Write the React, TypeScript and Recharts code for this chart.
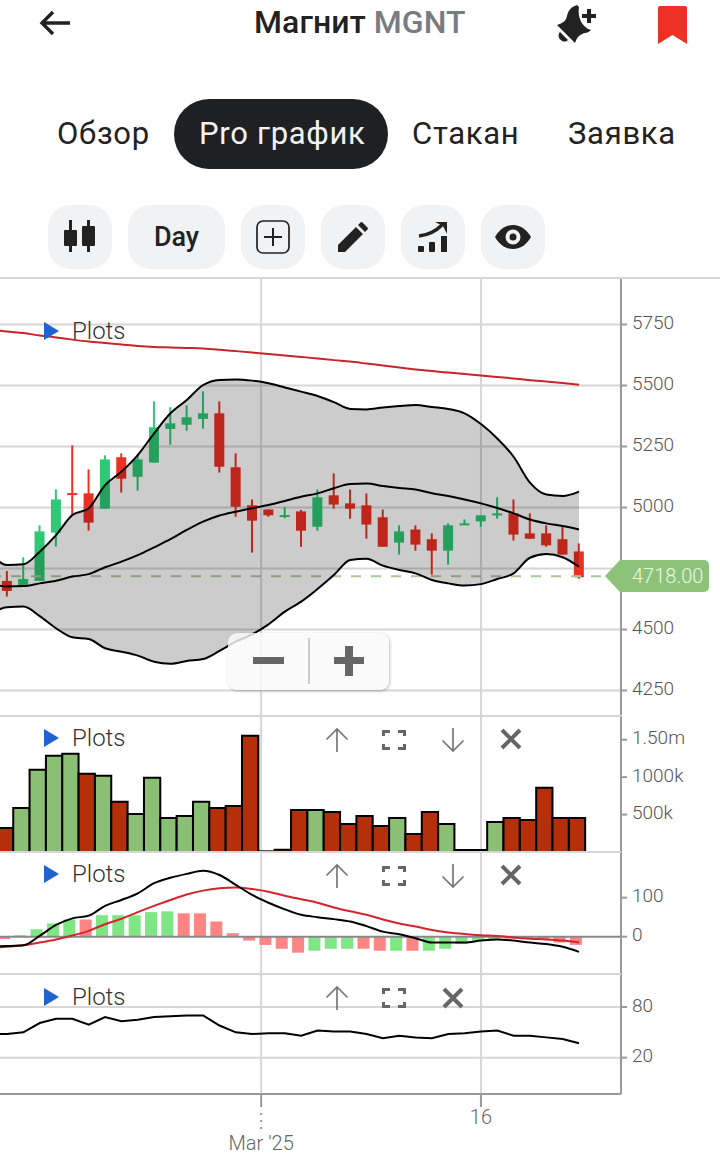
import {
  Area,
  Bar,
  CartesianGrid,
  Cell,
  ComposedChart,
  Line,
  ReferenceLine,
  XAxis,
  YAxis,
} from "recharts";

// t = -1 is the session scrolled just off the left edge, only the lines have a value there
const sessions = [-1, 0, 1, 2, 3, 4, 5, 6, 7, 8, 9, 10, 11, 12, 13, 14, 15, 16, 17, 18, 19, 20, 21, 22, 23, 24, 25, 26, 27, 28, 29, 30, 31, 32, 33, 34, 35];

const candleOpen = [null, 4699, 4682, 4699, 4897, 5059, 5058, 4995, 5206, 5126, 5184, 5322, 5339, 5363, 5386, 5165, 5009, 4992, 4962, 4984, 4921, 5050, 5017, 5009, 4960, 4856, 4910, 4870, 4823, 4930, 4943, 4971, 4976, 4894, 4894, 4870, 4820];
const candleHigh = [null, 4740, 4796, 4927, 5074, 5255, 5156, 5214, 5222, 5215, 5435, 5411, 5419, 5476, 5435, 5222, 5033, 4992, 5001, 4990, 5074, 5140, 5074, 5058, 4992, 4927, 4927, 4894, 4935, 4951, 4968, 5042, 5033, 4976, 4927, 4924, 4853];
const candleLow = [null, 4635, 4676, 4699, 4840, 4968, 4905, 4995, 5061, 5069, 5184, 5257, 5315, 5323, 5143, 4962, 4815, 4962, 4956, 4839, 4905, 4995, 4954, 4872, 4839, 4807, 4823, 4725, 4766, 4930, 4921, 4954, 4864, 4872, 4839, 4807, 4708];
const candleClose = [null, 4658, 4707, 4902, 5033, 5051, 4938, 5197, 5118, 5197, 5329, 5345, 5370, 5386, 5167, 5003, 4946, 4968, 4969, 4905, 5042, 5012, 4995, 4930, 4839, 4902, 4848, 4823, 4927, 4935, 4968, 4976, 4889, 4872, 4845, 4807, 4714];

const longMa = [5729, 5721, 5715, 5705, 5697, 5688, 5680, 5674, 5668, 5662, 5658, 5656, 5654, 5652, 5647, 5641, 5635, 5629, 5623, 5617, 5611, 5604, 5598, 5590, 5582, 5574, 5566, 5559, 5553, 5547, 5541, 5535, 5529, 5522, 5516, 5510, 5503];
const bandUpper = [4812, 4764, 4767, 4819, 4887, 4969, 4997, 5092, 5147, 5215, 5304, 5386, 5441, 5502, 5523, 5525, 5520, 5509, 5492, 5475, 5457, 5432, 5404, 5402, 5410, 5416, 5420, 5412, 5404, 5386, 5342, 5283, 5208, 5102, 5053, 5047, 5065];
const bandMiddle = [4689, 4676, 4678, 4689, 4700, 4717, 4727, 4755, 4778, 4805, 4837, 4870, 4908, 4942, 4967, 4983, 4997, 5010, 5027, 5044, 5058, 5079, 5096, 5098, 5088, 5080, 5074, 5058, 5047, 5033, 5017, 4998, 4976, 4951, 4935, 4924, 4910];
const bandLower = [4566, 4591, 4594, 4555, 4505, 4468, 4461, 4423, 4409, 4393, 4368, 4360, 4371, 4379, 4412, 4450, 4480, 4521, 4573, 4614, 4666, 4723, 4785, 4790, 4762, 4744, 4730, 4703, 4689, 4680, 4686, 4707, 4730, 4794, 4809, 4796, 4757];

const volumes = [null, 321, 589, 1098, 1286, 1312, 1045, 1018, 670, 509, 991, 455, 482, 670, 589, 616, 1553, 9, 31, 562, 562, 536, 375, 482, 348, 455, 241, 536, 375, 27, 27, 402, 455, 429, 857, 455, 455];
const volumeUp = [false, false, true, true, true, true, false, true, false, true, true, true, true, true, false, false, false, false, false, false, true, false, false, false, false, true, false, false, true, true, true, true, false, false, false, false, false];

const macdHist = [null, -6, 4, 19, 34, 44, 44, 55, 55, 55, 63, 65, 60, 60, 39, 9, -10, -21, -31, -41, -36, -31, -31, -31, -36, -36, -36, -36, -31, -19, -10, -7, -5, -5, -8, -15, -21];
const histUp = [false, false, true, true, true, true, false, true, true, true, true, true, false, false, false, false, false, false, false, false, true, true, true, false, false, true, false, true, true, true, true, true, false, false, false, false, false];
const macdLine = [-25, -24, -22, 2, 30, 47, 54, 79, 94, 111, 137, 151, 161, 169, 158, 133, 107, 87, 70, 56, 50, 45, 39, 27, 13, 6, -4, -15, -15, -15, -10, -7, -10, -15, -19, -26, -39];
const signalLine = [-28, -26, -22, -15, -7, 3, 15, 32, 46, 63, 79, 94, 108, 118, 124, 126, 122, 115, 105, 96, 87, 75, 65, 56, 44, 34, 26, 17, 11, 7, 4, 2, -2, -5, -7, -10, -15];

const rsiLine = [48, 48, 50, 61, 66, 66, 59, 68, 63, 65, 68, 69, 70, 70, 58, 50, 48, 49, 49, 46, 52, 51, 51, 48, 43, 46, 44, 43, 48, 49, 51, 52, 46, 46, 44, 42, 37];

const priceTicks = [4250, 4500, 4750, 5000, 5250, 5500, 5750];
const volumeTicks = [500, 1000, 1500];
const macdTicks = [0, 100];
const rsiTicks = [20, 80];
const timeTicks = [15.55, 29];
const timeLabels = ["Mar '25", "16"];
const lastPrice = 4718;

const rows = sessions.map((t, i) => ({
  t,
  open: candleOpen[i],
  high: candleHigh[i],
  low: candleLow[i],
  close: candleClose[i],
  longMa: longMa[i],
  upper: bandUpper[i],
  middle: bandMiddle[i],
  lower: bandLower[i],
  volume: volumes[i],
  hist: macdHist[i],
  macd: macdLine[i],
  signal: signalLine[i],
  rsi: rsiLine[i],
}));

const WIDTH = 720;
const margin = { top: 0, right: 0, bottom: 0, left: 0 };
const timeDomain: [number, number] = [-0.43, 37.57];
const priceDomain: [number, number] = [4149.6, 5936.5];
const gridColor = "#d6d6d6";
const axisColor = "#999";
const font = "Roboto, sans-serif";
const yTick = { fill: "#555", fontSize: 19, fontWeight: 300, fontFamily: font, dy: -2 };

function formatVolume(v: number) {
  return v >= 1500 ? "1.50m" : `${v}k`;
}

function Candle(props: any) {
  const { x, y, width, height, payload } = props;
  if (payload.high == null) return null;
  const perUnit = height / (payload.high - payload.low || 1);
  const top = y + (payload.high - Math.max(payload.open, payload.close)) * perUnit;
  const bodyH = Math.max(Math.abs(payload.open - payload.close) * perUnit, 2);
  const color = payload.close >= payload.open ? "#2fc874" : "#ee3024";
  const cx = x + width / 2;
  return (
    <g>
      <line x1={cx} x2={cx} y1={y} y2={y + height} stroke={color} strokeWidth={2} />
      <rect x={x} y={top} width={width} height={bodyH} fill={color} />
    </g>
  );
}

function TimeTick(props: any) {
  const { x, y, payload } = props;
  const label = timeLabels[timeTicks.indexOf(payload.value)];
  const isMonth = label.includes("'");
  const top = y - 7;
  return (
    <g>
      <line x1={x} x2={x} y1={top} y2={top + 12} stroke={axisColor} strokeWidth={2} />
      {isMonth && <line x1={x} x2={x} y1={top + 18} y2={top + 36} stroke={axisColor} strokeWidth={2} strokeDasharray="2 5" />}
      <text x={x} y={top + (isMonth ? 55 : 29)} textAnchor="middle" fill="#666" fontSize={20} fontWeight={300} fontFamily={font}>
        {label}
      </text>
    </g>
  );
}

function Plots({ y }: { y: number }) {
  return (
    <div style={{ position: "absolute", left: 44, top: y - 9, height: 18 }}>
      <div style={{ position: "absolute", left: 0, top: 0, width: 0, height: 0, borderLeft: "15px solid #1e63d0", borderTop: "9px solid transparent", borderBottom: "9px solid transparent" }} />
      <div style={{ position: "absolute", left: 28, top: -6, fontSize: 24, lineHeight: "30px", fontWeight: 300, color: "#333" }}>Plots</div>
    </div>
  );
}

function ArrowIcon({ x, y, down }: { x: number; y: number; down?: boolean }) {
  return (
    <svg style={{ position: "absolute", left: x - 12, top: y - 13 }} width={24} height={26} viewBox="0 0 24 26">
      <g transform={down ? "rotate(180 12 13)" : undefined} fill="none" stroke="#777" strokeWidth={1.7}>
        <path d="M12 25V2M1.5 12.5L12 2l10.5 10.5" />
      </g>
    </svg>
  );
}

function ExpandIcon({ x, y }: { x: number; y: number }) {
  return (
    <svg style={{ position: "absolute", left: x - 12, top: y - 10 }} width={24} height={20} viewBox="0 0 24 20">
      <path d="M1.5 6V1.5H8M16 1.5h6.5V6M22.5 14v4.5H16M8 18.5H1.5V14" fill="none" stroke="#666" strokeWidth={3} />
    </svg>
  );
}

function CloseIcon({ x, y }: { x: number; y: number }) {
  return (
    <svg style={{ position: "absolute", left: x - 11, top: y - 11 }} width={22} height={22} viewBox="0 0 22 22">
      <path d="M2 2l18 18M20 2L2 20" fill="none" stroke="#666" strokeWidth={4} />
    </svg>
  );
}

function ToolButton({ left, width, children }: { left: number; width: number; children: any }) {
  return (
    <div style={{ position: "absolute", left, top: 205, width, height: 64, borderRadius: 23, background: "#f1f2f4", display: "flex", alignItems: "center", justifyContent: "center" }}>
      {children}
    </div>
  );
}

function Header() {
  const tab = { position: "absolute" as const, top: 114, fontSize: 31, lineHeight: "40px", color: "#222", letterSpacing: 0.7 };
  return (
    <>
      <svg style={{ position: "absolute", left: 39, top: 10 }} width={32} height={26} viewBox="0 0 32 26">
        <path d="M31 13H4M14 2L3 13l11 11" fill="none" stroke="#222" strokeWidth={3.4} />
      </svg>
      <div style={{ position: "absolute", left: 254, top: 2, fontSize: 32, lineHeight: "40px", fontWeight: 500, color: "#222", whiteSpace: "nowrap", letterSpacing: 0.1 }}>
        Магнит <span style={{ color: "#777b82" }}>MGNT</span>
      </div>
      <svg style={{ position: "absolute", left: 555, top: 4 }} width={46} height={42} viewBox="0 0 46 42">
        <g fill="#222">
          <path d="M22 1c-7 2-9 7-10 11-1 5-4 7-10 9l18 18c2-6 5-9 10-10 2 0 4-1 6-3C28 24 22 14 24 3z" />
          <path d="M5 28c-2 2-2 6 1 8 2 2 5 2 7 0z" />
          <rect x={32} y={5} width={4} height={14} />
          <rect x={27} y={10} width={14} height={4} />
        </g>
      </svg>
      <svg style={{ position: "absolute", left: 658, top: 6 }} width={29} height={38} viewBox="0 0 29 38">
        <path d="M2 0h25a2 2 0 0 1 2 2v36L14.500 29 0 38V2a2 2 0 0 1 2-2z" fill="#ee3124" />
      </svg>

      <div style={{ ...tab, left: 57 }}>Обзор</div>
      <div style={{ position: "absolute", left: 174, top: 99, width: 214, height: 70, borderRadius: 35, background: "#1f2022" }} />
      <div style={{ ...tab, left: 199, color: "#f2f2f2" }}>Pro график</div>
      <div style={{ ...tab, left: 412 }}>Стакан</div>
      <div style={{ ...tab, left: 568 }}>Заявка</div>

      <ToolButton left={48} width={64}>
        <svg width={32} height={34} viewBox="0 0 32 34" fill="#222">
          <rect x={5} y={0} width={3} height={32} />
          <rect x={0} y={10} width={13} height={16} rx={1} />
          <rect x={23} y={0} width={3} height={32} />
          <rect x={18} y={6} width={13} height={20} rx={1} />
        </svg>
      </ToolButton>
      <ToolButton left={128} width={97}>
        <span style={{ fontSize: 27, fontWeight: 500, color: "#222" }}>Day</span>
      </ToolButton>
      <ToolButton left={241} width={64}>
        <svg width={34} height={34} viewBox="0 0 34 34" fill="none" stroke="#222">
          <rect x={1} y={1} width={32} height={32} rx={6} strokeWidth={1.7} />
          <path d="M17 8v18M8 17h18" strokeWidth={2} />
        </svg>
      </ToolButton>
      <ToolButton left={321} width={64}>
        <svg width={30} height={30} viewBox="0 0 30 30" fill="#222">
          <path d="M0 30v-7L18 5l7 7L7 30zM20 3l2.500-2.500a1.500 1.500 0 0 1 2 0l5 5a1.500 1.500 0 0 1 0 2L27 10z" />
        </svg>
      </ToolButton>
      <ToolButton left={401} width={64}>
        <svg width={30} height={32} viewBox="0 0 30 32" fill="#222">
          <path d="M1 15C10 14 18 10 24 4" fill="none" stroke="#222" strokeWidth={3.4} />
          <path d="M17 1h12v12l-4-8z" />
          <rect x={0} y={25} width={6} height={6} rx={1} />
          <rect x={11} y={21} width={6} height={10} rx={1} />
          <rect x={23} y={15} width={6} height={16} />
        </svg>
      </ToolButton>
      <ToolButton left={481} width={64}>
        <svg width={36} height={24} viewBox="0 0 36 24">
          <path d="M0 12C4 5 10 0 18 0s14 5 18 12c-4 7-10 12-18 12S4 19 0 12z" fill="#222" />
          <circle cx={18} cy={12} r={7.500} fill="#f1f2f4" />
          <circle cx={18} cy={12} r={3.500} fill="#222" />
        </svg>
      </ToolButton>
      <div style={{ position: "absolute", left: 0, top: 277, width: WIDTH, height: 2, background: gridColor }} />
    </>
  );
}

export default function App() {
  return (
    <div style={{ position: "absolute", left: 0, top: 0, width: WIDTH, height: 1156, background: "#fff", overflow: "hidden", fontFamily: font }}>
      <Header />

      <div style={{ position: "absolute", left: 0, top: 279 }}>
        <ComposedChart width={WIDTH} height={436} data={rows} margin={margin}>
          <CartesianGrid stroke={gridColor} strokeWidth={2} syncWithTicks />
          <XAxis dataKey="t" type="number" domain={timeDomain} ticks={timeTicks} allowDataOverflow hide />
          <YAxis orientation="right" width={99} domain={priceDomain} ticks={priceTicks} interval={0} tick={yTick} tickSize={6} tickMargin={5} stroke={axisColor} strokeWidth={2} />
          <ReferenceLine y={lastPrice} stroke="#a9c99b" strokeWidth={2} strokeDasharray="10 10" />
          <Bar dataKey={(d: any) => (d.high == null ? null : [d.low, d.high])} barSize={10} shape={<Candle />} isAnimationActive={false} />
        </ComposedChart>
      </div>

      {/* the band is a second chart on top so it shades the candles under it */}
      <div style={{ position: "absolute", left: 0, top: 279 }}>
        <ComposedChart width={WIDTH} height={436} data={rows} margin={{ ...margin, right: 99 }}>
          <XAxis dataKey="t" type="number" domain={timeDomain} allowDataOverflow hide />
          <YAxis domain={priceDomain} hide />
          <Area dataKey={(d: any) => [d.lower, d.upper]} stroke="none" fill="#000" fillOpacity={0.2} type="monotone" isAnimationActive={false} dot={false} activeDot={false} />
          <Line dataKey="longMa" stroke="#c8242c" strokeWidth={2} type="monotone" dot={false} isAnimationActive={false} />
          <Line dataKey="upper" stroke="#000" strokeWidth={2} type="monotone" dot={false} isAnimationActive={false} />
          <Line dataKey="middle" stroke="#000" strokeWidth={2} type="monotone" dot={false} isAnimationActive={false} />
          <Line dataKey="lower" stroke="#000" strokeWidth={2} type="monotone" dot={false} isAnimationActive={false} />
        </ComposedChart>
      </div>

      <div style={{ position: "absolute", left: 0, top: 716 }}>
        <ComposedChart width={WIDTH} height={136} data={rows} margin={margin}>
          <CartesianGrid stroke={gridColor} strokeWidth={2} horizontal={false} syncWithTicks />
          <XAxis dataKey="t" type="number" domain={[-0.31, 37.69]} ticks={[15.67, 29.12]} allowDataOverflow hide />
          <YAxis orientation="right" width={99} domain={[0, 1817]} ticks={volumeTicks} interval={0} tick={yTick} tickFormatter={formatVolume} tickSize={6} tickMargin={5} stroke={axisColor} strokeWidth={2} />
          <Bar dataKey="volume" barSize={16.3} stroke="#000" strokeWidth={2} isAnimationActive={false}>
            {rows.map((_, i) => (
              <Cell key={i} fill={volumeUp[i] ? "#8bbf75" : "#b52f0b"} />
            ))}
          </Bar>
        </ComposedChart>
      </div>

      <div style={{ position: "absolute", left: 0, top: 852 }}>
        <ComposedChart width={WIDTH} height={122} data={rows} margin={margin}>
          <CartesianGrid stroke={gridColor} strokeWidth={2} horizontal={false} syncWithTicks />
          <XAxis dataKey="t" type="number" domain={timeDomain} ticks={timeTicks} allowDataOverflow hide />
          <XAxis xAxisId="hist" dataKey="t" type="number" domain={[-0.25, 37.75]} allowDataOverflow hide />
          <YAxis orientation="right" width={99} domain={[-95.6, 217]} ticks={macdTicks} interval={0} tick={yTick} tickSize={6} tickMargin={5} stroke={axisColor} strokeWidth={2} />
          <Bar xAxisId="hist" dataKey="hist" barSize={12} isAnimationActive={false}>
            {rows.map((_, i) => (
              <Cell key={i} fill={histUp[i] ? "#7fe684" : "#ff8585"} />
            ))}
          </Bar>
          <ReferenceLine y={0} stroke="#888" strokeWidth={2} />
          <Line dataKey="signal" stroke="#d3262c" strokeWidth={2} type="monotone" dot={false} isAnimationActive={false} />
          <Line dataKey="macd" stroke="#000" strokeWidth={2} type="monotone" dot={false} isAnimationActive={false} />
        </ComposedChart>
      </div>

      <div style={{ position: "absolute", left: 0, top: 974 }}>
        <ComposedChart width={WIDTH} height={182} data={rows} margin={margin}>
          <CartesianGrid stroke={gridColor} strokeWidth={2} syncWithTicks />
          <XAxis dataKey="t" type="number" domain={timeDomain} ticks={timeTicks} interval={0} allowDataOverflow height={62} tick={<TimeTick />} tickLine={false} stroke={axisColor} strokeWidth={2} />
          <YAxis orientation="right" width={99} domain={[-23, 119]} ticks={rsiTicks} interval={0} tick={yTick} tickSize={6} tickMargin={5} stroke={axisColor} strokeWidth={2} />
          <Line dataKey="rsi" stroke="#000" strokeWidth={2} type="linear" dot={false} isAnimationActive={false} />
        </ComposedChart>
      </div>

      <div style={{ position: "absolute", left: 0, top: 715, width: 621, height: 2, background: gridColor }} />
      <div style={{ position: "absolute", left: 0, top: 851, width: 621, height: 2, background: gridColor }} />
      <div style={{ position: "absolute", left: 0, top: 973, width: 621, height: 2, background: gridColor }} />

      <Plots y={331} />
      <Plots y={738} />
      <Plots y={874} />
      <Plots y={997} />

      <ArrowIcon x={337} y={740} />
      <ExpandIcon x={394} y={740} />
      <ArrowIcon x={453} y={740} down />
      <CloseIcon x={511} y={739} />
      <ArrowIcon x={337} y={876} />
      <ExpandIcon x={394} y={876} />
      <ArrowIcon x={453} y={876} down />
      <CloseIcon x={511} y={875} />
      <ArrowIcon x={337} y={998} />
      <ExpandIcon x={394} y={998} />
      <CloseIcon x={453} y={998} />

      <svg style={{ position: "absolute", left: 604, top: 560 }} width={106} height={32} viewBox="0 0 106 32">
        <path d="M1 16L16 0h84a5 5 0 0 1 5 5v22a5 5 0 0 1-5 5H16z" fill="#8cc27a" />
      </svg>
      <div style={{ position: "absolute", left: 632, top: 560, fontSize: 20, lineHeight: "32px", fontWeight: 300, color: "#eef6e8" }}>4718.00</div>

      <div style={{ position: "absolute", left: 228, top: 633, width: 161, height: 57, borderRadius: 9, background: "rgba(250,250,250,0.82)", boxShadow: "1px 1px 3px rgba(0,0,0,0.25)" }}>
        <div style={{ position: "absolute", left: 25, top: 24, width: 31, height: 7, background: "#666" }} />
        <div style={{ position: "absolute", left: 80, top: 5, width: 2, height: 46, background: "#ccc" }} />
        <div style={{ position: "absolute", left: 106, top: 24, width: 30, height: 7, background: "#666" }} />
        <div style={{ position: "absolute", left: 117, top: 13, width: 8, height: 30, background: "#666" }} />
      </div>
    </div>
  );
}
